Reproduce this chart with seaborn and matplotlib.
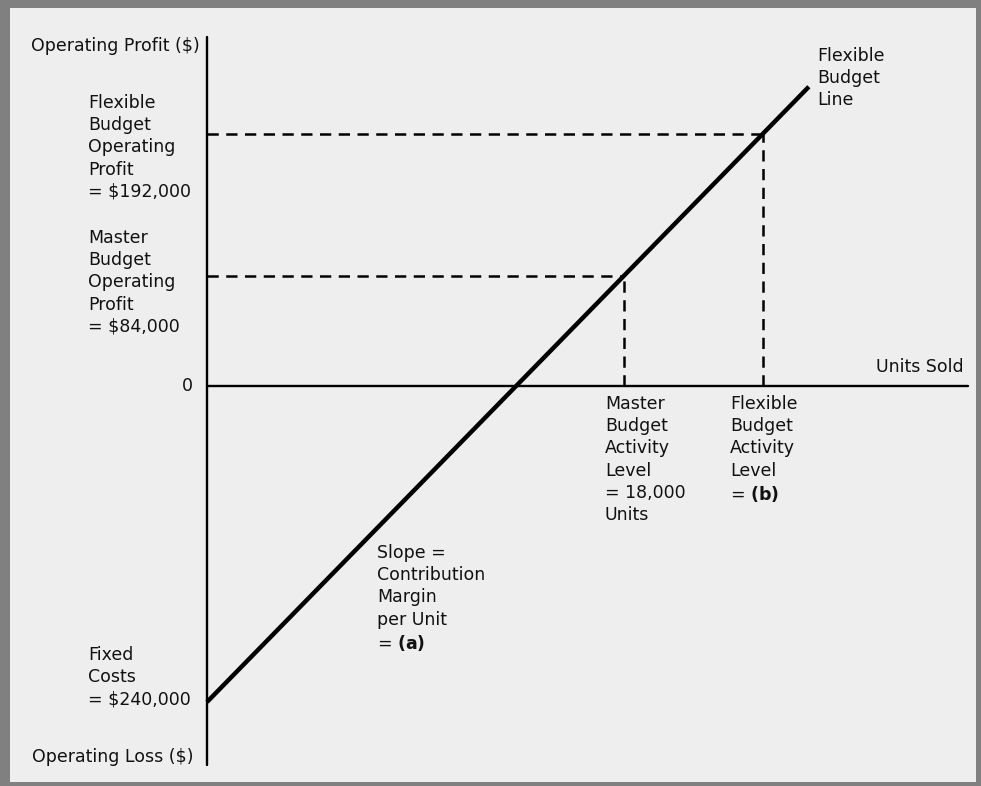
import numpy as np
import pandas as pd
import matplotlib
matplotlib.use('Agg')
import matplotlib.pyplot as plt
from matplotlib.patches import Rectangle
import seaborn as sns

# chart values
fixed_costs = 240000
master_units = 18000
master_profit = 84000
flexible_profit = 192000
cm_per_unit = (master_profit + fixed_costs) / master_units
flexible_units = (flexible_profit + fixed_costs) / cm_per_unit
units_range = np.array([0, 26000])

x_limits = [0, 32875]
y_limits = [-287900, 265830]

W, H = 981, 786


def fx(px):
    return px / W


def fy(py):
    return 1 - py / H


sns.set_theme(style='white')
plt.rcParams['font.family'] = ['DejaVu Sans']
plt.rcParams['mathtext.fontset'] = 'dejavusans'

fig = plt.figure(figsize=(W / 100, H / 100), dpi=100)
fig.patch.set_facecolor('#808080')
fig.add_artist(Rectangle((fx(10), fy(782)), (976 - 10) / W, (782 - 8) / H,
                         transform=fig.transFigure, facecolor='#eeeeee',
                         edgecolor='none', zorder=0))

ax = fig.add_axes([fx(207), fy(765), (968 - 207) / W, (765 - 37) / H])
ax.set_facecolor('none')
ax.set_xlim(x_limits)
ax.set_ylim(y_limits)
ax.set_axis_off()

# axes lines
ax.axvline(0, color='black', lw=1.7, clip_on=False)
ax.axhline(0, color='black', lw=1.7, clip_on=False)

# flexible budget line
df = pd.DataFrame({'units': units_range,
                   'profit': cm_per_unit * units_range - fixed_costs})
sns.lineplot(data=df, x='units', y='profit', color='black', lw=3.2, ax=ax,
             solid_capstyle='butt', clip_on=False)

dash = (0, (4.5, 3))
for u, p in [(master_units, master_profit), (flexible_units, flexible_profit)]:
    ax.plot([0, u], [p, p], color='black', lw=1.8, ls=dash)
    ax.plot([u, u], [0, p], color='black', lw=1.8, ls=dash)

fs = 12.5
ls = 1.3


def label(px, py, s, ha='left', va='top'):
    fig.text(fx(px), fy(py), s, ha=ha, va=va, fontsize=fs, linespacing=ls,
             color='#111111')


label(200, 46, 'Operating Profit ($)', ha='right', va='center')
label(88, 94, 'Flexible\nBudget\nOperating\nProfit\n= $192,000')
label(88, 229, 'Master\nBudget\nOperating\nProfit\n= $84,000')
label(193, 386, '0', ha='right', va='center')
label(88, 646, 'Fixed\nCosts\n= $240,000')
label(193, 757, 'Operating Loss ($)', ha='right', va='center')
label(964, 367, 'Units Sold', ha='right', va='center')
label(605, 395, 'Master\nBudget\nActivity\nLevel\n= 18,000\nUnits')
label(730, 395, 'Flexible\nBudget\nActivity\nLevel\n= $\\mathbf{(b)}$')
label(377, 544, 'Slope =\nContribution\nMargin\nper Unit\n= $\\mathbf{(a)}$')
label(817, 47, 'Flexible\nBudget\nLine')

fig.savefig('out.png', dpi=100, facecolor=fig.get_facecolor())
